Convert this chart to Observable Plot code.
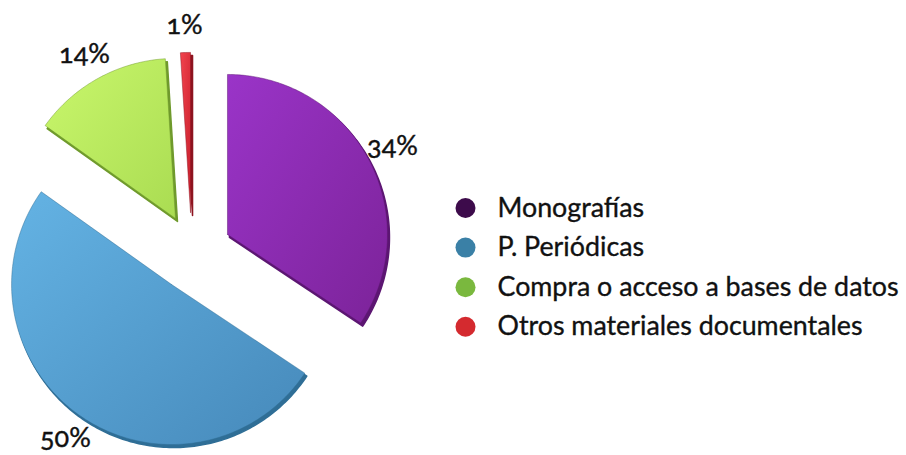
<!DOCTYPE html>
<html><head><meta charset="utf-8">
<script src="https://cdn.jsdelivr.net/npm/d3@7"></script>
<script src="https://cdn.jsdelivr.net/npm/@observablehq/plot@0.6"></script>
<style>body{margin:0;background:#fff;overflow:hidden}</style>
</head><body><div id="chart"></div>
<script>
// ---- data ----
const categories = ["Monografías", "P. Periódicas", "Compra o acceso a bases de datos", "Otros materiales documentales"];
const values = [34, 50, 14, 1];
const labels = ["34%", "50%", "14%", "1%"];
const legendColors = ["#3d0b4b", "#3a80a6", "#7ab83e", "#d42a2f"];
const sliceLight = ["#9a34c8", "#64b3e4", "#c9f76c", "#f2444e"];
const sliceDark = ["#7c2399", "#4689ba", "#aadc52", "#c81e2c"];
const sliceEdge = ["#5c1672", "#2f6e96", "#6f9a2c", "#8e1420"];
// per-slice explode offsets (in radius units, y up)
const offsetX = [0.185, -0.160, -0.136, -0.043];
const offsetY = [0.099, -0.210, 0.198, 0.235];

// ---- layout ----
const W = 906, H = 455, R = 160, CX = 197, CY = 250;
const labelRadius = 1.17;
const legendX = (465 - CX) / R;
const legendTextX = (497 - CX) / R;
const legendY = i => (CY - (207.5 + i * 39.6)) / R;

const arcs = d3.pie().sort(null).value(d => d)(values);
const slices = arcs.map((a, i) => {
  const mid = (a.startAngle + a.endAngle) / 2;
  const ox = offsetX[i] * 162 / R, oy = offsetY[i] * 162 / R;
  const n = Math.max(3, Math.ceil((a.endAngle - a.startAngle) / (Math.PI / 180)));
  const pts = [{x: ox, y: oy}];
  for (let k = 0; k <= n; k++) {
    const t = a.startAngle + (a.endAngle - a.startAngle) * k / n;
    pts.push({x: ox + Math.sin(t), y: oy + Math.cos(t)});
  }
  pts.push({x: ox, y: oy});
  return {pts, label: {x: ox + labelRadius * Math.sin(mid), y: oy + labelRadius * Math.cos(mid), text: labels[i]}};
});

const defs = () => {
  const d = d3.create("svg:defs");
  slices.forEach((s, i) => {
    const g = d.append("linearGradient").attr("id", "sg" + i)
      .attr("x1", "0").attr("y1", "0").attr("x2", "1").attr("y2", "1");
    g.append("stop").attr("offset", "0%").attr("stop-color", sliceLight[i]);
    g.append("stop").attr("offset", "100%").attr("stop-color", sliceDark[i]);
  });
  return d.node();
};

const marks = [defs];
slices.forEach((s, i) => marks.push(Plot.line(s.pts, {x: "x", y: "y", fill: sliceEdge[i], stroke: sliceEdge[i], dx: 2, dy: 3, curve: "linear"})));
slices.forEach((s, i) => marks.push(Plot.line(s.pts, {x: "x", y: "y", fill: `url(#sg${i})`, stroke: sliceEdge[i], strokeWidth: 0.8, strokeOpacity: 0.6, curve: "linear"})));
marks.push(Plot.text(slices.map(s => s.label), {x: "x", y: "y", text: "text", fontSize: 27, fill: "#111", stroke: "#111", strokeWidth: 0.4, fontFamily: "Lato", textAnchor: "middle", lineAnchor: "middle"}));

const legendData = categories.map((c, i) => ({c, i}));
marks.push(Plot.dot(legendData, {x: () => legendX, y: d => legendY(d.i), r: 10, fill: d => legendColors[d.i], stroke: "none"}));
marks.push(Plot.text(legendData, {x: () => legendTextX, y: d => legendY(d.i), text: "c", textAnchor: "start", lineAnchor: "middle", fontSize: 26.8, fill: "#111", stroke: "#111", strokeWidth: 0.35, fontFamily: "Lato"}));

const chart = Plot.plot({
  width: W, height: H, margin: 0,
  x: {axis: null, domain: [-CX / R, (W - CX) / R], range: [0, W]},
  y: {axis: null, domain: [-(H - CY) / R, CY / R], range: [H, 0]},
  style: {fontFamily: "Lato", background: "#fff", overflow: "visible"},
  marks
});
chart.querySelectorAll("text").forEach(t => t.style.fontVariantNumeric = "oldstyle-nums");
document.getElementById("chart").append(chart);
</script>
</body></html>
